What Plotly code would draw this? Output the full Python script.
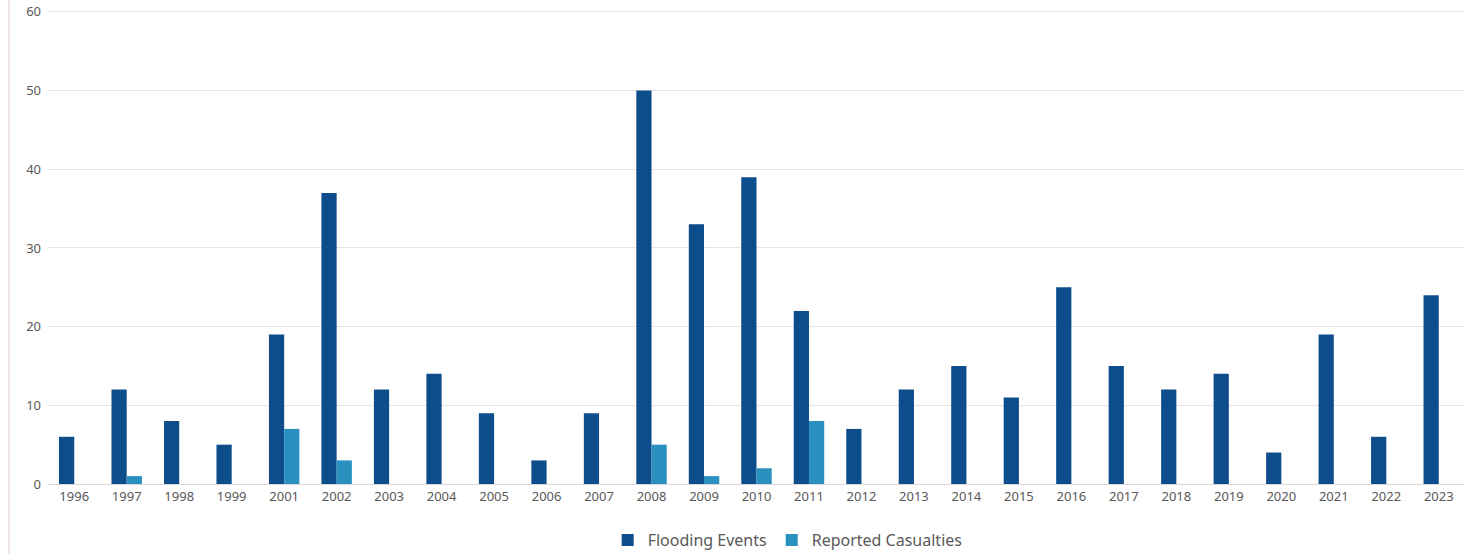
import plotly.graph_objects as go

years = ["1996", "1997", "1998", "1999", "2001", "2002", "2003", "2004", "2005", "2006",
         "2007", "2008", "2009", "2010", "2011", "2012", "2013", "2014", "2015", "2016",
         "2017", "2018", "2019", "2020", "2021", "2022", "2023"]
flooding_events = [6, 12, 8, 5, 19, 37, 12, 14, 9, 3,
                   9, 50, 33, 39, 22, 7, 12, 15, 11, 25,
                   15, 12, 14, 4, 19, 6, 24]
reported_casualties = [0, 1, 0, 0, 7, 3, 0, 0, 0, 0,
                       0, 5, 1, 2, 8, 0, 0, 0, 0, 0,
                       0, 0, 0, 0, 0, 0, 0]
y_ticks = [0, 10, 20, 30, 40, 50, 60]

fig = go.Figure()
fig.add_trace(go.Bar(x=years, y=flooding_events, name="Flooding Events",
                     marker=dict(color="#0E4D8C", line=dict(width=0))))
fig.add_trace(go.Bar(x=years, y=reported_casualties, name="Reported Casualties",
                     marker=dict(color="#2A90C0", line=dict(width=0))))

fig.update_layout(
    width=1469, height=554,
    margin=dict(l=48, r=4, t=8, b=70, autoexpand=False),
    paper_bgcolor="white", plot_bgcolor="white",
    barmode="group", bargap=0.42, bargroupgap=0,
    font=dict(family="Noto Sans, sans-serif", color="#595959", size=13),
    showlegend=True,
    legend=dict(orientation="h", x=0.522, xanchor="center", y=-0.118, yanchor="middle",
                font=dict(size=16, color="#595959"), itemwidth=30,
                traceorder="normal"),
    xaxis=dict(type="category", showgrid=False, showline=True, linecolor="#E3D9D9",
               linewidth=1, ticks="", tickfont=dict(size=13, color="#595959")),
    yaxis=dict(range=[0, 60.5], tickvals=y_ticks, showgrid=True, gridcolor="#EBE2E2",
               gridwidth=1, zeroline=False, showline=False, ticks="",
               tickfont=dict(size=13, color="#595959"), ticklabelstandoff=6),
)
fig.add_shape(type="line", xref="paper", yref="paper", x0=-0.0275, x1=-0.0275, y0=-0.148, y1=1.02,
              line=dict(color="#EADCDC", width=1.5))
fig.write_html("out.html", post_script="document.body.style.margin='0';",
               config={"displayModeBar": False})
